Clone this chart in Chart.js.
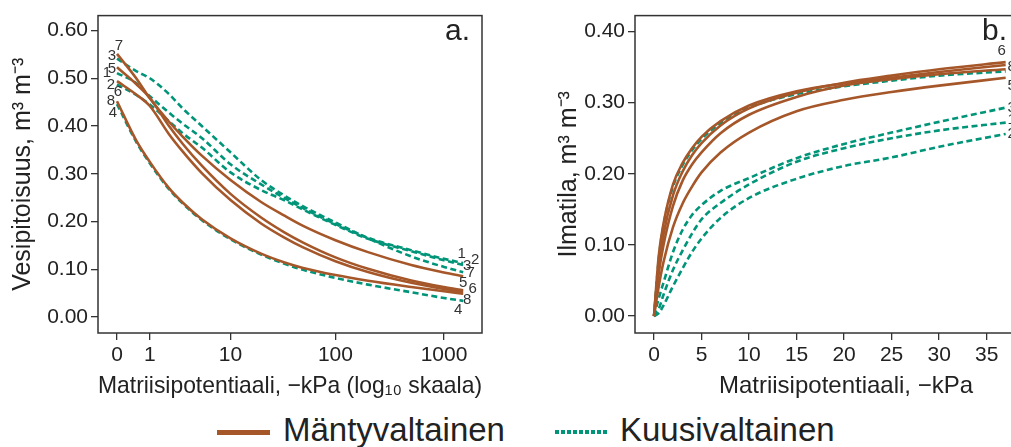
<!DOCTYPE html>
<html>
<head>
<meta charset="utf-8">
<script src="https://cdn.jsdelivr.net/npm/chart.js@4.4.0/dist/chart.umd.min.js"></script>
<style>
  html, body { margin: 0; padding: 0; background: #fff; overflow: hidden; }
  body { width: 1011px; height: 447px; position: relative; font-family: "Liberation Sans", Arial, sans-serif; }
  #wrapA { position: absolute; left: 0; top: 0; width: 510px; height: 405px; }
  #wrapB { position: absolute; left: 530px; top: 0; width: 540px; height: 405px; }
  .key { position: absolute; font-size: 33px; line-height: 33px; color: #222; white-space: nowrap; }
  .swatch { position: absolute; height: 5px; }
</style>
</head>
<body>
<div id="wrapA"><canvas id="chartA" width="510" height="405"></canvas></div>
<div id="wrapB"><canvas id="chartB" width="540" height="405"></canvas></div>
<span class="swatch" style="left:217px; top:430px; width:53px; background:#A6572A"></span>
<span class="key" style="left:283px; top:413px">Mäntyvaltainen</span>
<span class="swatch" style="left:555px; top:430px; width:52px; height:4px; background:repeating-linear-gradient(90deg,#009478 0 4px,transparent 4px 6px)"></span>
<span class="key" style="left:620px; top:413px">Kuusivaltainen</span>
<script>
// ── data: a. vesipitoisuus (m3 m-3) vs matriisipotentiaali (-kPa) ──
const kPaA = [0, 0.5, 1, 2, 3, 5, 10, 20, 33, 50, 100, 200, 500, 1000, 1500];
const waterPine5 = [0.523, 0.488, 0.459, 0.400, 0.363, 0.317, 0.258, 0.2085, 0.178, 0.156, 0.125, 0.101, 0.0765, 0.0627, 0.0559];
const waterPine6 = [0.494, 0.466, 0.442, 0.383, 0.347, 0.3015, 0.245, 0.196, 0.167, 0.146, 0.117, 0.0944, 0.0718, 0.059, 0.0529];
const waterPine7 = [0.551, 0.500, 0.458, 0.409, 0.378, 0.338, 0.287, 0.241, 0.213, 0.191, 0.161, 0.136, 0.109, 0.0935, 0.0856];
const waterPine8 = [0.452, 0.370, 0.325, 0.270, 0.240, 0.205, 0.165, 0.133, 0.115, 0.103, 0.088, 0.076, 0.063, 0.054, 0.049];
const waterSpruce1 = [0.511, 0.490, 0.4625, 0.428, 0.405, 0.375, 0.320, 0.278, 0.250, 0.228, 0.195, 0.166, 0.140, 0.122, 0.113];
const waterSpruce2 = [0.487, 0.465, 0.445, 0.410, 0.385, 0.355, 0.303, 0.266, 0.245, 0.225, 0.193, 0.164, 0.138, 0.119, 0.109];
const waterSpruce3 = [0.541, 0.515, 0.500, 0.467, 0.437, 0.400, 0.345, 0.287, 0.255, 0.232, 0.198, 0.165, 0.127, 0.105, 0.094];
const waterSpruce4 = [0.446, 0.367, 0.322, 0.268, 0.238, 0.203, 0.163, 0.131, 0.112, 0.099, 0.082, 0.068, 0.052, 0.040, 0.034];

// ── data: b. ilmatila (m3 m-3) vs matriisipotentiaali (-kPa) ──
const kPaB = [0, 0.5, 1, 2, 3, 4, 5, 7, 10, 15, 20, 25, 30, 37];
const airPine5 = [0, 0.042, 0.076, 0.125, 0.158, 0.182, 0.202, 0.230, 0.258, 0.288, 0.304, 0.315, 0.324, 0.335];
const airPine6 = [0, 0.070, 0.115, 0.170, 0.203, 0.226, 0.243, 0.268, 0.292, 0.314, 0.328, 0.338, 0.347, 0.357];
const airPine7 = [0, 0.060, 0.100, 0.155, 0.190, 0.213, 0.230, 0.257, 0.283, 0.308, 0.324, 0.333, 0.340, 0.347];
const airPine8 = [0, 0.085, 0.130, 0.185, 0.215, 0.236, 0.252, 0.274, 0.296, 0.316, 0.327, 0.335, 0.343, 0.353];
const airSpruce1 = [0, 0.010, 0.030, 0.065, 0.092, 0.116, 0.136, 0.159, 0.185, 0.217, 0.236, 0.250, 0.261, 0.272];
const airSpruce2 = [0, 0.004, 0.015, 0.042, 0.067, 0.090, 0.109, 0.138, 0.166, 0.193, 0.211, 0.223, 0.238, 0.256];
const airSpruce3 = [0, 0.025, 0.047, 0.090, 0.121, 0.142, 0.156, 0.176, 0.194, 0.222, 0.242, 0.258, 0.273, 0.293];
const airSpruce4 = [0, 0.080, 0.128, 0.182, 0.212, 0.233, 0.249, 0.271, 0.293, 0.312, 0.323, 0.331, 0.338, 0.344];

// ── ticks ──
const tickKPaA = [0, 1, 10, 100, 1000];
const tickWaterA = [0, 0.1, 0.2, 0.3, 0.4, 0.5, 0.6];
const tickKPaB = [0, 5, 10, 15, 20, 25, 30, 35, 40];
const tickAirB = [0, 0.1, 0.2, 0.3, 0.4];

const PINE = '#A6572A';
const SPRUCE = '#009478';
const FONT = '"Liberation Sans", Arial, Helvetica, sans-serif';
const INK = '#222';

// log10(x + 1) axis, so that 0 kPa fits on the log axis
const logAxis = h => Math.log10(h + 1);
const plainAxis = h => h;

function series(site, kind, xs, ys, toX) {
  return {
    label: String(site),
    site: site,
    data: xs.map((h, i) => ({ x: toX(h), y: ys[i] })),
    borderColor: kind === 'pine' ? PINE : SPRUCE,
    borderWidth: 2.6,
    borderDash: kind === 'pine' ? [] : [6, 3.5],
    pointRadius: 0,
    cubicInterpolationMode: 'monotone',
    fill: false
  };
}

function yAxis(title, ticks, min, max, width, titlePad) {
  return {
    type: 'linear', min: min, max: max,
    afterFit: s => { s.width = width; },
    afterBuildTicks: s => { s.ticks = ticks.map(v => ({ value: v })); },
    ticks: { callback: v => v.toFixed(2), font: { size: 21, family: FONT }, color: INK, padding: 3 },
    grid: { drawOnChartArea: false, tickLength: 7, color: '#333', lineWidth: 1.3 },
    border: { display: false },
    title: { display: true, text: title, font: { size: 25, family: FONT }, color: INK, padding: { top: titlePad, bottom: 0 } }
  };
}

function xAxis(title, ticks, toX, min, max) {
  return {
    type: 'linear', min: min, max: max,
    afterFit: s => { s.height = 72; },
    afterBuildTicks: s => { s.ticks = ticks.map(v => ({ value: toX(v) })); },
    ticks: { callback: (v, i) => String(ticks[i]), autoSkip: false, maxRotation: 0, font: { size: 21, family: FONT }, color: INK, padding: 3 },
    grid: { drawOnChartArea: false, tickLength: 7, color: '#333', lineWidth: 1.3 },
    border: { display: false },
    title: { display: true, text: title, font: { size: 24, family: FONT }, color: INK, padding: { top: 0, bottom: 4 } }
  };
}

// box, panel letter and curve numbers
const frame = {
  id: 'frame',
  afterDatasetsDraw(chart, args, opts) {
    const { ctx, chartArea: a } = chart;
    ctx.save();
    ctx.strokeStyle = '#333';
    ctx.lineWidth = 1.5;
    ctx.strokeRect(a.left, a.top, a.right - a.left, a.bottom - a.top);

    ctx.fillStyle = INK;
    ctx.font = '30px ' + FONT;
    ctx.textAlign = 'left';
    ctx.textBaseline = 'alphabetic';
    ctx.fillText(opts.letter, a.left + opts.letterX, 40);

    ctx.font = '15px ' + FONT;
    ctx.fillStyle = '#333';
    ctx.textAlign = 'center';
    ctx.textBaseline = 'middle';
    chart.data.datasets.forEach((ds, i) => {
      const pts = chart.getDatasetMeta(i).data;
      Object.entries(opts.tags).forEach(([end, offs]) => {
        const o = offs[ds.site];
        if (!o) return;
        const p = end === 'start' ? pts[0] : pts[pts.length - 1];
        ctx.fillText(String(ds.site), p.x + o[0], p.y + o[1]);
      });
    });
    ctx.restore();
  }
};

// ── a. ──
new Chart(document.getElementById('chartA'), {
  type: 'line',
  data: {
    datasets: [
      series(7, 'pine', kPaA, waterPine7, logAxis),
      series(5, 'pine', kPaA, waterPine5, logAxis),
      series(6, 'pine', kPaA, waterPine6, logAxis),
      series(8, 'pine', kPaA, waterPine8, logAxis),
      series(3, 'spruce', kPaA, waterSpruce3, logAxis),
      series(1, 'spruce', kPaA, waterSpruce1, logAxis),
      series(2, 'spruce', kPaA, waterSpruce2, logAxis),
      series(4, 'spruce', kPaA, waterSpruce4, logAxis)
    ]
  },
  options: {
    responsive: false,
    animation: false,
    layout: { padding: { top: 14, right: 28, left: 0, bottom: 0 } },
    plugins: {
      legend: { display: false },
      tooltip: { enabled: false },
      frame: {
        letter: 'a.', letterX: 347,
        tags: {
          start: { 7: [2, -8], 3: [-5, -3], 5: [-5, 2], 1: [-10, 0], 6: [1, 11], 2: [-6, 0], 8: [-6, 0], 4: [-4, 9] },
          end: { 1: [-1.5, -9.5], 2: [12, -5.4], 3: [4, -6], 7: [7.5, -3], 5: [0, -7.4], 6: [9.5, -3.3], 8: [4, 6.5], 4: [-5, 8.6] }
        }
      }
    },
    scales: {
      x: xAxis('Matriisipotentiaali, \u2212kPa (log\u2081\u2080 skaala)', tickKPaA, logAxis, -0.1743, 3.349),
      y: yAxis('Vesipitoisuus, m\u00b3 m\u207b\u00b3', tickWaterA, -0.0333, 0.63125, 98, 8)
    }
  },
  plugins: [frame]
});

// ── b. ──
new Chart(document.getElementById('chartB'), {
  type: 'line',
  data: {
    datasets: [
      series(6, 'pine', kPaB, airPine6, plainAxis),
      series(8, 'pine', kPaB, airPine8, plainAxis),
      series(7, 'pine', kPaB, airPine7, plainAxis),
      series(5, 'pine', kPaB, airPine5, plainAxis),
      series(4, 'spruce', kPaB, airSpruce4, plainAxis),
      series(3, 'spruce', kPaB, airSpruce3, plainAxis),
      series(1, 'spruce', kPaB, airSpruce1, plainAxis),
      series(2, 'spruce', kPaB, airSpruce2, plainAxis)
    ]
  },
  options: {
    responsive: false,
    animation: false,
    layout: { padding: { top: 14, right: 13, left: 0, bottom: 0 } },
    plugins: {
      legend: { display: false },
      tooltip: { enabled: false },
      frame: {
        letter: 'b.', letterX: 347,
        tags: {
          end: { 6: [-4, -11], 8: [6, 1.5], 7: [14, -11], 4: [14, 8], 5: [6, 8.5], 3: [6, 0], 1: [6, -3], 2: [6, 0] }
        }
      }
    },
    scales: {
      x: xAxis('Matriisipotentiaali, \u2212kPa', tickKPaB, plainAxis, -2.0, 42.4),
      y: yAxis('Ilmatila, m\u00b3 m\u207b\u00b3', tickAirB, -0.0238, 0.4224, 105, 24)
    }
  },
  plugins: [frame]
});
</script>
</body>
</html>
